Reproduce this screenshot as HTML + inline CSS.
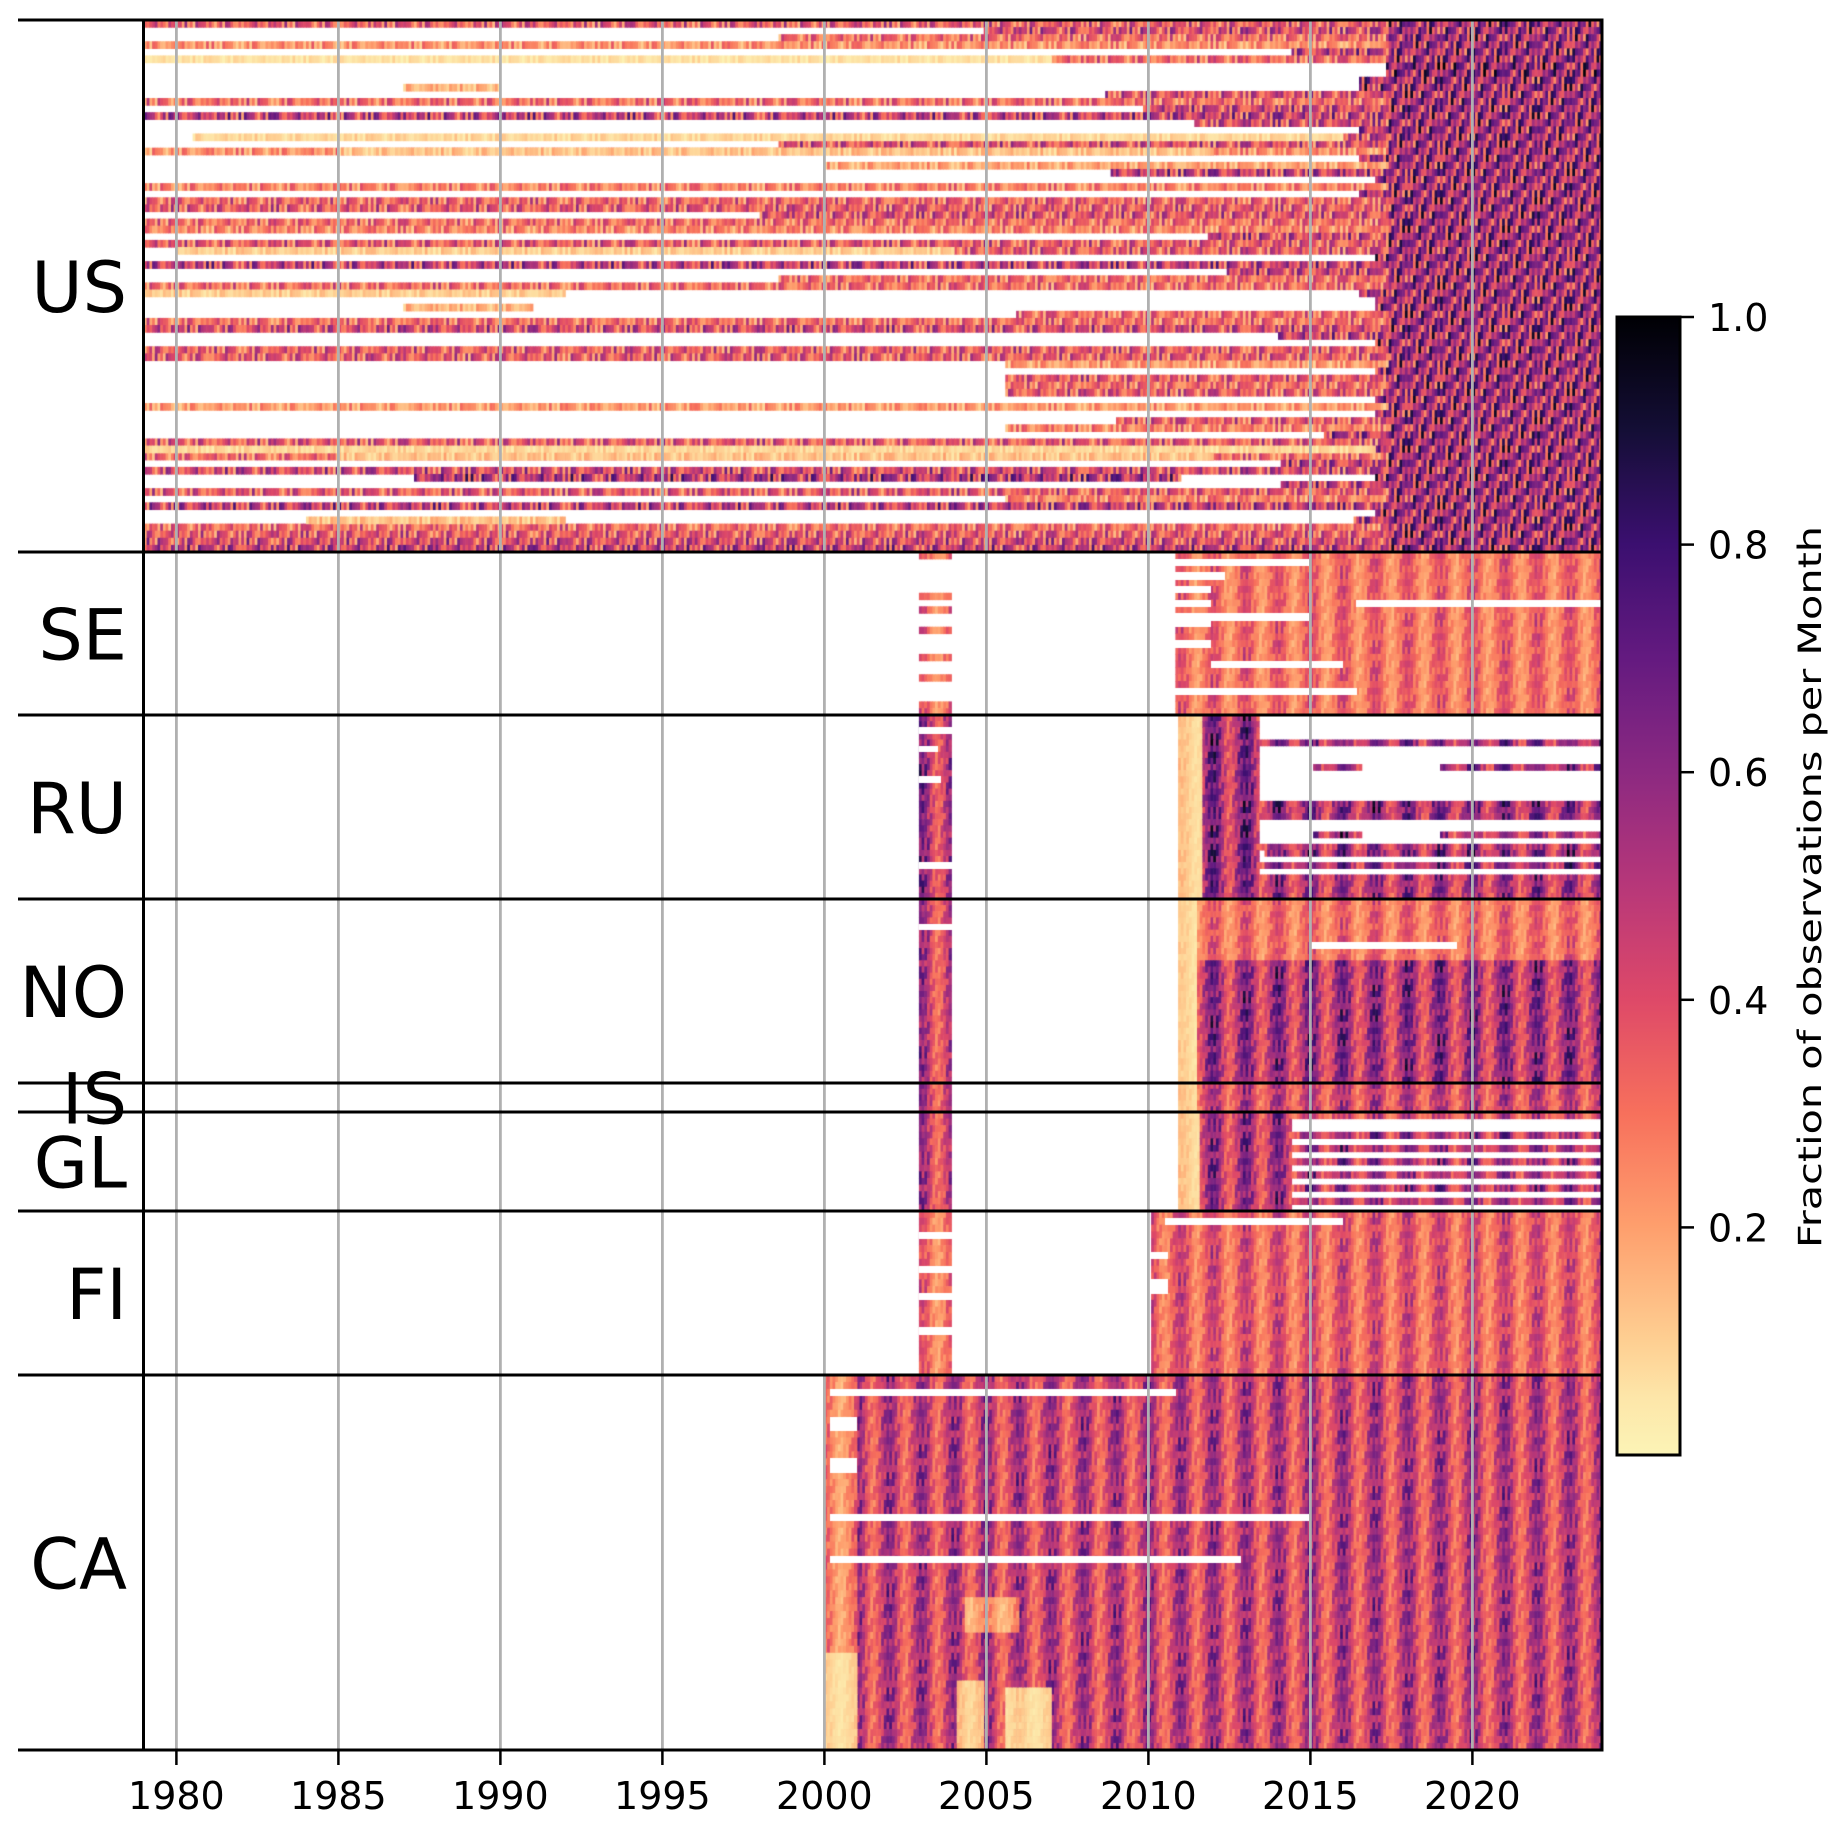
<!DOCTYPE html>
<html><head><meta charset="utf-8">
<style>
html,body{margin:0;padding:0;background:#fff;}
#wrap{position:relative;width:1843px;height:1829px;overflow:hidden;}
canvas,svg{position:absolute;left:0;top:0;}
text{font-family:"DejaVu Sans","Liberation Sans",sans-serif;fill:#000;}
</style></head>
<body>
<div id="wrap">
<canvas id="hm" width="1843" height="1829"></canvas>
<svg id="ov" width="1843" height="1829"></svg>
</div>
<script>
// ---------- data ----------
const countries = ["US","SE","RU","NO","IS","GL","FI","CA"];
const blockTop = [20,552,715,899,1083,1112,1211,1375];
const blockBottom = [552,715,899,1083,1112,1211,1375,1750];
const blockRows = [75,24,30,30,5,15,24,54];
const xTicks = [1980,1985,1990,1995,2000,2005,2010,2015,2020];
const cbTicks = [0.2,0.4,0.6,0.8,1.0];
const cbTickLabels = ["0.2","0.4","0.6","0.8","1.0"];
// US rows: start year and mean level before the 2017 transition
const usStart = [1979,2004.9,1998.6,1979,2014.4,2007,2017.3,2017.3,2016.5,2016.5,2008.7,1979,2009.8,1979,2011.4,2016.5,2016,1998.6,1979,2016.5,2000,2008.8,2017,1979,2016.5,1979,1979,1998,1979,1979,2011.8,1979,2004,2017,1979,2012.4,1998.6,1979,2016.5,2017,2017,2005.9,1979,1979,2014,2017,1979,1979,2005.6,2017,2005.6,2005.6,2005.6,2017,1979,2017,2009,2005.6,2015.4,1979,2017,1979,2014.1,1979,2017,2014.1,1979,2005.6,1979,2017,2016.3,1979,1979,1979,1979];
const usLevel = [0.35,0.4,0.3,0.22,0.45,0.3,0.6,0.6,0.55,0.55,0.38,0.3,0.42,0.45,0.4,0.5,0.4,0.38,0.22,0.5,0.18,0.45,0.55,0.25,0.5,0.32,0.35,0.38,0.3,0.25,0.42,0.35,0.35,0.55,0.45,0.42,0.3,0.3,0.5,0.55,0.55,0.3,0.3,0.4,0.45,0.55,0.35,0.35,0.2,0.55,0.35,0.3,0.35,0.55,0.2,0.55,0.35,0.25,0.5,0.35,0.5,0.3,0.45,0.4,0.55,0.45,0.35,0.25,0.45,0.55,0.5,0.3,0.35,0.4,0.45];
const usLate = 0.55;
const usLateYear = 2017.4;
// extra US segments: [row, fromYear, toYear, value]
const usExtra = [[5,1979,2007,0.06],[16,1980.5,2016,0.08],[18,1985,2012,0.12],[32,1980,2004,0.1],[38,1979,1992,0.1],[60,1979,2017,0.08],[61,1985,2012,0.12],[64,1987.3,2011,0.5],[70,1984,1992,0.12],[9,1987,1990,0.15],[40,1987,1991,0.15]];
// Block segments: [rowFrom,rowTo,yearFrom,yearTo,value]; value -1 = no data
const seSegs = [[0,23,2010.8,2024,0.3],[1,1,2010.8,2015,-1],[3,3,2010.8,2012.3,-1],[5,5,2010.8,2011.9,-1],[7,7,2010.8,2011.9,-1],[7,7,2016.4,2024,-1],[9,9,2010.8,2015,-1],[10,10,2010.8,2011.9,-1],[13,13,2010.8,2011.9,-1],[16,16,2011.9,2016,-1],[20,20,2010.8,2016.4,-1],[0,0,2002.9,2003.9,0.3],[6,6,2002.9,2003.9,0.3],[8,8,2002.9,2003.9,0.3],[11,11,2002.9,2003.9,0.3],[15,15,2002.9,2003.9,0.3],[18,18,2002.9,2003.9,0.3],[22,23,2002.9,2003.9,0.3]];
const ruSegs = [[0,29,2010.9,2011.7,0.1],[0,29,2011.7,2013.4,0.55],[4,4,2013.4,2024,0.55],[8,8,2015.1,2016.6,0.55],[8,8,2019,2024,0.55],[14,16,2013.4,2024,0.55],[19,19,2015.1,2016.6,0.55],[19,19,2019,2024,0.5],[21,21,2013.4,2024,0.5],[22,22,2013.6,2024,0.55],[24,24,2013.4,2024,0.55],[26,29,2013.4,2024,0.5],[0,29,2002.9,2003.9,0.5],[2,2,2002.9,2003.9,-1],[5,5,2002.9,2003.5,-1],[10,10,2002.9,2003.6,-1],[24,24,2002.9,2003.9,-1]];
const noSegs = [[0,29,2010.9,2011.5,0.08],[0,9,2011.5,2024,0.3],[10,29,2011.5,2024,0.52],[7,7,2015,2019.5,-1],[0,29,2002.9,2003.9,0.45],[4,4,2002.9,2003.9,-1]];
const isSegs = [[0,4,2010.9,2011.5,0.1],[0,4,2011.5,2024,0.42],[0,4,2002.9,2003.9,0.45]];
const glSegs = [[0,14,2010.9,2011.6,0.1],[0,14,2011.6,2014.4,0.5],[0,0,2014.4,2024,0.4],[3,3,2014.4,2024,0.5],[5,5,2014.4,2024,0.5],[7,7,2014.4,2024,0.5],[9,9,2014.4,2024,0.5],[11,11,2014.4,2024,0.5],[13,13,2014.4,2024,0.5],[0,14,2002.9,2003.9,0.45]];
const fiSegs = [[0,23,2010.1,2024,0.35],[1,1,2010.5,2016,-1],[6,6,2010.1,2010.6,-1],[10,11,2010.1,2010.6,-1],[0,23,2002.9,2003.9,0.3],[3,3,2002.9,2003.9,-1],[8,8,2002.9,2003.9,-1],[12,12,2002.9,2003.9,-1],[17,17,2002.9,2003.9,-1]];
const caSegs = [[0,53,2000,2024,0.45],[0,53,2000,2001,0.25],[40,53,2000,2001,0.08],[2,2,2000.2,2010.8,-1],[20,20,2000.2,2015,-1],[26,26,2000.2,2012.8,-1],[6,7,2000.2,2001,-1],[12,13,2000.2,2001,-1],[32,36,2004.3,2006,0.2],[44,53,2004.1,2004.9,0.12],[45,53,2005.6,2007,0.08]];
const blockSegs = [null,seSegs,ruSegs,noSegs,isSegs,glSegs,fiSegs,caSegs];
// monthly seasonal factor (Jan..Dec) for northern networks, and cell texture factors
const nordicSeason = [1.3,1.25,1.1,0.9,0.75,0.65,0.65,0.75,0.9,1.05,1.2,1.35];
const cellTexture = [1.0,0.55,1.35,0.8,1.6,0.7,1.1,0.45,1.25,0.95,1.45,0.6,1.15,0.85,1.7,0.5,1.05,1.3,0.65,1.2,0.9,1.5,0.4,1.0,1.4,0.75,1.1,0.6,1.55,0.85,1.2];

// ---------- scales ----------
const X0=144, PXY=32.4, YEAR0=1979, YEAR1=2024;
function xScale(y){return X0+(y-YEAR0)*PXY;}
const CB_TOP=317, CB_BOT=1455;
function cbScale(v){return CB_BOT-(v)*(CB_BOT-CB_TOP);}
const magma=[[0,0,4],[20,14,54],[59,15,112],[100,26,128],[140,41,129],[183,55,121],[222,73,104],[247,112,92],[254,159,109],[254,207,146],[252,253,191]];
function cmap(v){ // magma_r
  v=Math.max(0.02,Math.min(1,v)); let t=(1-v)*10; let i=Math.min(9,Math.floor(t)); let f=t-i;
  const a=magma[i],b=magma[i+1];
  return `rgb(${Math.round(a[0]+(b[0]-a[0])*f)},${Math.round(a[1]+(b[1]-a[1])*f)},${Math.round(a[2]+(b[2]-a[2])*f)})`;
}

// ---------- heatmap ----------
const ctx=document.getElementById('hm').getContext('2d');
const NT=cellTexture.length;
function rowY(b,r){const h=(blockBottom[b]-blockTop[b])/blockRows[b];return [blockTop[b]+r*h,h];}
function paint(b,r,from,to,val,seasonal){
  const [yy,h]=rowY(b,r);
  const m0=Math.round((from-YEAR0)*12), m1=Math.round((to-YEAR0)*12);
  for(let m=m0;m<m1;m++){
    const x=xScale(YEAR0+m/12), w=PXY/12;
    if(val<0){ctx.clearRect(x,yy,w+0.6,h+0.6);continue;}
    const tex=cellTexture[(m*13+r*17+b*7+Math.floor(m/12)*5)%NT];
    let v = seasonal ? val*nordicSeason[m%12]*(0.55+0.45*tex) : val*tex;
    ctx.fillStyle=cmap(v);
    ctx.fillRect(x,yy,w+0.6,h+0.6);
  }
}
for(let r=0;r<usStart.length;r++){
  if(usStart[r]<usLateYear) paint(0,r,usStart[r],usLateYear,usLevel[r],false);
  paint(0,r,Math.max(usStart[r],usLateYear),YEAR1,Math.max(usLevel[r],usLate),false);
}
usExtra.forEach(s=>paint(0,s[0],s[1],s[2],s[3],false));
for(let b=1;b<blockSegs.length;b++){
  blockSegs[b].forEach(s=>{for(let r=s[0];r<=s[1];r++) paint(b,r,s[2],s[3],s[4],true);});
}

// ---------- overlay ----------
const NS="http://www.w3.org/2000/svg", svg=document.getElementById('ov');
function el(tag,attrs,parent){const e=document.createElementNS(NS,tag);for(const k in attrs)e.setAttribute(k,attrs[k]);(parent||svg).appendChild(e);return e;}
const XR=xScale(YEAR1);
xTicks.forEach(t=>{
  const g=el('line',{x1:xScale(t),x2:xScale(t),y1:20,y2:1750,stroke:'#b0b0b0','stroke-width':2.8});
  
  
  const tk=el('line',{x1:xScale(t),x2:xScale(t),y1:1750,y2:1765,stroke:'#000','stroke-width':2.5});
  
  
  const tx=el('text',{x:xScale(t),y:1809,'text-anchor':'middle','font-size':38});
  tx.textContent=t;
  
  
});
blockTop.concat([1750]).forEach((y,i)=>{
  const l=el('line',{x1:18,x2:XR,y1:y,y2:y,stroke:'#000','stroke-width':3});
  
  
});
const ls=el('line',{x1:143.5,x2:143.5,y1:20,y2:1750,stroke:'#000','stroke-width':3});


const rs=el('line',{x1:XR,x2:XR,y1:18.5,y2:1751.5,stroke:'#000','stroke-width':3});


countries.forEach((c,i)=>{
  const cy=(blockTop[i]+blockBottom[i])/2;
  const t=el('text',{x:127,y:cy+26,'text-anchor':'end','font-size':70});
  t.textContent=c;
  
  
});
const defs=el('defs',{});
const grad=el('linearGradient',{id:'cbg',x1:0,y1:1,x2:0,y2:0},defs);
for(let i=0;i<=20;i++){el('stop',{offset:(i/20),'stop-color':cmap(i/20)},grad);}
const cb=el('rect',{x:1617,y:CB_TOP,width:63,height:CB_BOT-CB_TOP,fill:'url(#cbg)',stroke:'#000','stroke-width':3});


cbTicks.forEach((v,i)=>{
  const tk=el('line',{x1:1680,x2:1694,y1:cbScale(v),y2:cbScale(v),stroke:'#000','stroke-width':2.5});
  
  
  const tx=el('text',{x:1708,y:cbScale(v)+14,'font-size':38});
  tx.textContent=cbTickLabels[i];
  
  
});
const lab=el('text',{x:0,y:0,'text-anchor':'middle','font-size':32,textLength:722,lengthAdjust:'spacingAndGlyphs',transform:'translate(1821,887) rotate(-90)'});
lab.textContent='Fraction of observations per Month';


</script>
</body></html>
